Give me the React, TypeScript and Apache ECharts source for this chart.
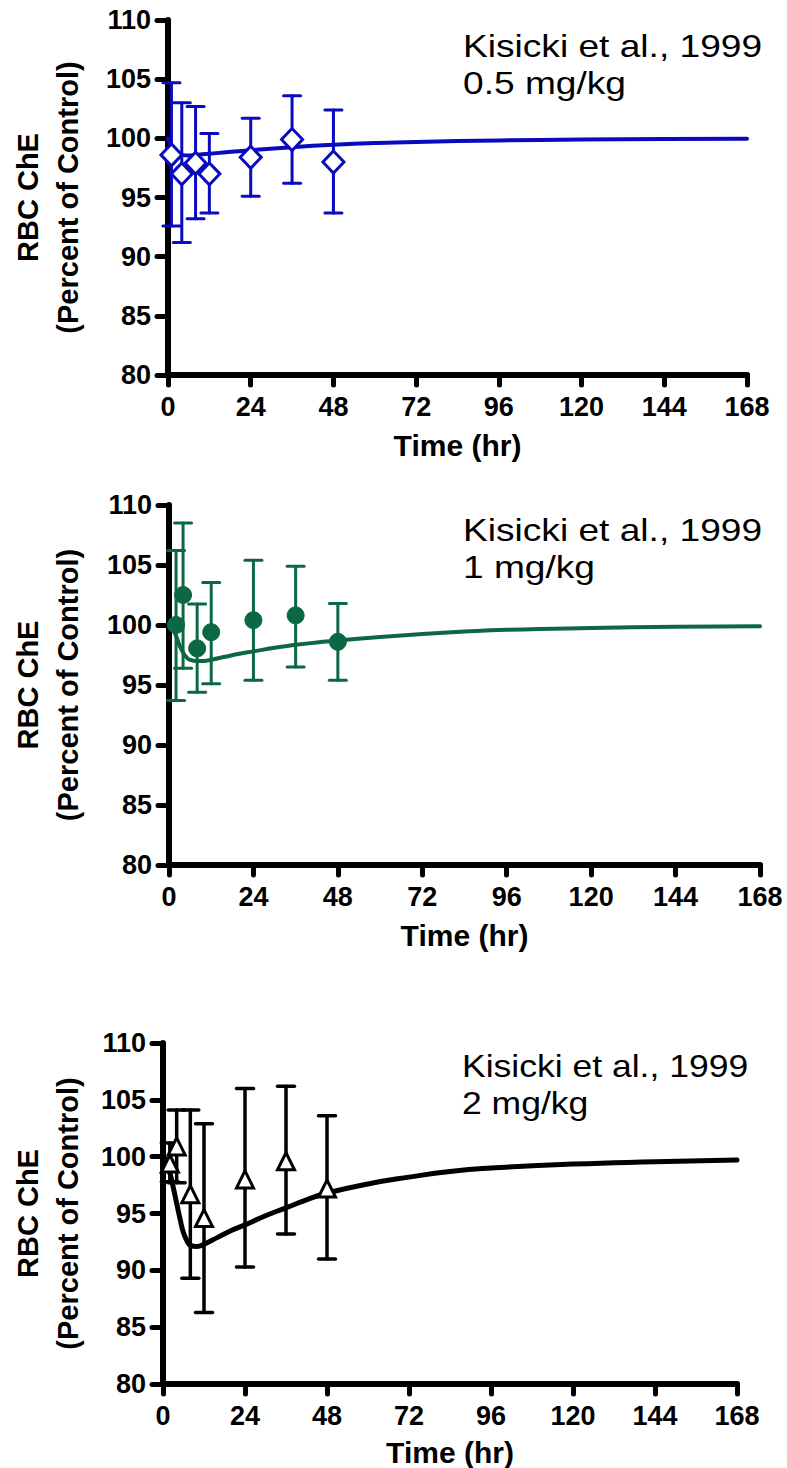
import React, { useEffect, useRef } from "react";
import * as echarts from "echarts";

// ---------- data ----------
const X_MIN = 0;
const X_MAX = 168;
const X_INTERVAL = 24;
const Y_MIN = 80;
const Y_MAX = 110;
const Y_INTERVAL = 5;

const PANEL_TITLES = ["Kisicki et al., 1999", "Kisicki et al., 1999", "Kisicki et al., 1999"];
const PANEL_DOSES = ["0.5 mg/kg", "1 mg/kg", "2 mg/kg"];

// 0.5 mg/kg (blue, open diamonds)
const LOW_TIMES = [1, 4, 8, 12, 24, 36, 48];
const LOW_MEAN = [98.6, 97.0, 97.9, 97.0, 98.4, 99.9, 98.0];
const LOW_UPPER = [104.7, 103.0, 102.7, 100.4, 101.7, 103.6, 102.4];
const LOW_LOWER = [92.6, 91.2, 93.2, 93.7, 95.1, 96.2, 93.7];
const LOW_MODEL_T = [0, 1, 2, 3, 4, 6, 8, 12, 16, 24, 36, 48, 60, 72, 96, 120, 144, 168];
const LOW_MODEL_V = [100, 99.4, 98.95, 98.7, 98.6, 98.55, 98.6, 98.7, 98.8, 99.0, 99.25, 99.45, 99.6, 99.7, 99.82, 99.9, 99.95, 99.97];

// 1 mg/kg (green, filled circles)
const MID_TIMES = [2, 4, 8, 12, 24, 36, 48];
const MID_MEAN = [100.0, 102.5, 98.05, 99.4, 100.4, 100.8, 98.6];
const MID_UPPER = [106.2, 108.5, 101.75, 103.55, 105.4, 104.9, 101.8];
const MID_LOWER = [93.7, 96.4, 94.4, 95.1, 95.4, 96.5, 95.4];
const MID_MODEL_T = [0, 1, 2, 3, 4, 5, 6, 8, 10, 12, 16, 20, 24, 30, 36, 42, 48, 60, 72, 84, 96, 120, 144, 168];
const MID_MODEL_V = [100, 99.7, 99.1, 98.3, 97.7, 97.3, 97.1, 97.0, 97.0, 97.1, 97.35, 97.6, 97.8, 98.1, 98.35, 98.55, 98.7, 99.0, 99.25, 99.45, 99.6, 99.75, 99.85, 99.9];

// 2 mg/kg (black, open triangles)
const HIGH_TIMES = [2, 4, 8, 12, 24, 36, 48];
const HIGH_MEAN = [99.4, 100.9, 96.7, 94.6, 98.0, 99.6, 97.2];
const HIGH_UPPER = [101.2, 104.1, 104.1, 102.9, 106.0, 106.2, 103.6];
const HIGH_LOWER = [97.8, 97.7, 89.3, 86.3, 90.3, 93.2, 91.0];
const HIGH_MODEL_T = [0, 1, 2, 3, 4, 5, 6, 7, 8, 10, 12, 16, 20, 24, 30, 36, 42, 48, 60, 72, 84, 96, 120, 144, 168];
const HIGH_MODEL_V = [100, 99.6, 98.6, 97.3, 95.9, 94.5, 93.3, 92.6, 92.2, 92.1, 92.3, 92.9, 93.5, 94.0, 94.8, 95.5, 96.2, 96.8, 97.6, 98.2, 98.7, 99.0, 99.35, 99.55, 99.7];

// ---------- styling / layout ----------
const FONT = "'Liberation Sans', Arial, Helvetica, sans-serif";
const GRIDS = [
  { left: 160, top: 20, width: 587, height: 355 },
  { left: 162, top: 505, width: 598, height: 360 },
  { left: 163, top: 1043, width: 574, height: 342 },
];
const NAME_GAPS_Y = [80, 81, 75];
const NAME_GAPS_X = [55, 55, 53];
const ANNOT_POS = [
  { x: 463, y: 46, sx: 1.16 },
  { x: 463, y: 530, sx: 1.16 },
  { x: 462, y: 1066, sx: 1.11 },
];

const PANELS = [
  {
    color: "#0A0ABF",
    times: LOW_TIMES, mean: LOW_MEAN, upper: LOW_UPPER, lower: LOW_LOWER,
    modelT: LOW_MODEL_T, modelV: LOW_MODEL_V,
    symbol: "diamond", symbolSize: [21, 22], filled: false, lineWidth: 4, errWidth: 3,
  },
  {
    color: "#0C6842",
    times: MID_TIMES, mean: MID_MEAN, upper: MID_UPPER, lower: MID_LOWER,
    modelT: MID_MODEL_T, modelV: MID_MODEL_V,
    symbol: "circle", symbolSize: 17, filled: true, lineWidth: 4, errWidth: 3,
  },
  {
    color: "#000000",
    times: HIGH_TIMES, mean: HIGH_MEAN, upper: HIGH_UPPER, lower: HIGH_LOWER,
    modelT: HIGH_MODEL_T, modelV: HIGH_MODEL_V,
    symbol: "triangle", symbolSize: 17, filled: false, lineWidth: 5, errWidth: 3.5,
  },
];

function buildOption() {
  const grid: any[] = [];
  const xAxis: any[] = [];
  const yAxis: any[] = [];
  const series: any[] = [];
  const graphic: any[] = [];

  PANELS.forEach((p, i) => {
    grid.push({ ...GRIDS[i], containLabel: false });
    xAxis.push({
      type: "value",
      gridIndex: i,
      min: X_MIN,
      max: X_MAX,
      interval: X_INTERVAL,
      name: "Time (hr)",
      nameLocation: "middle",
      nameGap: NAME_GAPS_X[i],
      nameTextStyle: { fontFamily: FONT, fontSize: 30, fontWeight: "bold", color: "#000" },
      axisLine: { show: true, onZero: false, lineStyle: { color: "#000", width: 6, cap: "round" } },
      axisTick: { show: true, length: 10, lineStyle: { color: "#000", width: 5, cap: "round" } },
      axisLabel: { show: true, fontFamily: FONT, fontSize: 27, fontWeight: "bold", color: "#000", margin: 18 },
      splitLine: { show: false },
    });
    yAxis.push({
      type: "value",
      gridIndex: i,
      min: Y_MIN,
      max: Y_MAX,
      interval: Y_INTERVAL,
      name: "RBC ChE\n(Percent of Control)",
      nameLocation: "middle",
      nameRotate: 90,
      nameGap: NAME_GAPS_Y[i],
      nameTextStyle: { fontFamily: FONT, fontSize: 29, fontWeight: "bold", color: "#000", lineHeight: 40 },
      axisLine: { show: true, onZero: false, lineStyle: { color: "#000", width: 6, cap: "round" } },
      axisTick: { show: true, length: 11, lineStyle: { color: "#000", width: 5, cap: "round" } },
      axisLabel: { show: true, fontFamily: FONT, fontSize: 27, fontWeight: "bold", color: "#000", margin: 17 },
      splitLine: { show: false },
    });

    const errData = p.times.map((t, k) => [t, p.lower[k], p.upper[k]]);
    series.push({
      type: "custom",
      xAxisIndex: i,
      yAxisIndex: i,
      z: 2,
      encode: { x: 0, y: [1, 2] },
      data: errData,
      renderItem: (params: any, api: any) => {
        const t = api.value(0);
        const lo = api.coord([t, api.value(1)]);
        const hi = api.coord([t, api.value(2)]);
        const half = 8.5;
        const style = { stroke: p.color, lineWidth: p.errWidth, fill: "none", lineCap: "round" };
        return {
          type: "group",
          children: [
            { type: "line", shape: { x1: lo[0], y1: lo[1], x2: hi[0], y2: hi[1] }, style },
            { type: "line", shape: { x1: hi[0] - half, y1: hi[1], x2: hi[0] + half, y2: hi[1] }, style },
            { type: "line", shape: { x1: lo[0] - half, y1: lo[1], x2: lo[0] + half, y2: lo[1] }, style },
          ],
        };
      },
    });

    series.push({
      type: "line",
      xAxisIndex: i,
      yAxisIndex: i,
      z: 3,
      showSymbol: false,
      smooth: true,
      data: p.modelT.map((t, k) => [t, p.modelV[k]]),
      lineStyle: { color: p.color, width: p.lineWidth, cap: "round", join: "round", opacity: 1 },
    });

    series.push({
      type: "scatter",
      xAxisIndex: i,
      yAxisIndex: i,
      z: 4,
      symbol: p.symbol,
      symbolSize: p.symbolSize,
      data: p.times.map((t, k) => [t, p.mean[k]]),
      itemStyle: p.filled
        ? { color: p.color, borderColor: p.color, borderWidth: 1, opacity: 1 }
        : { color: "#ffffff", borderColor: p.color, borderWidth: 3, opacity: 1 },
      emphasis: { disabled: true },
    });

    const pos = ANNOT_POS[i];
    graphic.push({
      type: "text",
      x: pos.x,
      y: pos.y,
      scaleX: pos.sx,
      style: {
        text: PANEL_TITLES[i],
        fontFamily: FONT,
        fontSize: 32,
        fill: "#000",
        align: "left",
        verticalAlign: "middle",
      },
    });
    graphic.push({
      type: "text",
      x: pos.x,
      y: pos.y + 37,
      scaleX: pos.sx,
      style: {
        text: PANEL_DOSES[i],
        fontFamily: FONT,
        fontSize: 32,
        fill: "#000",
        align: "left",
        verticalAlign: "middle",
      },
    });
  });

  return {
    animation: false,
    backgroundColor: "#ffffff",
    grid,
    xAxis,
    yAxis,
    series,
    graphic,
  };
}

export default function App() {
  const ref = useRef<HTMLDivElement | null>(null);
  useEffect(() => {
    if (!ref.current) return;
    const chart = echarts.init(ref.current, undefined, { renderer: "svg" });
    chart.setOption(buildOption() as any);
    return () => chart.dispose();
  }, []);
  return (
    <div
      ref={ref}
      style={{ position: "absolute", left: 0, top: 0, width: 787, height: 1468, background: "#fff" }}
    />
  );
}
